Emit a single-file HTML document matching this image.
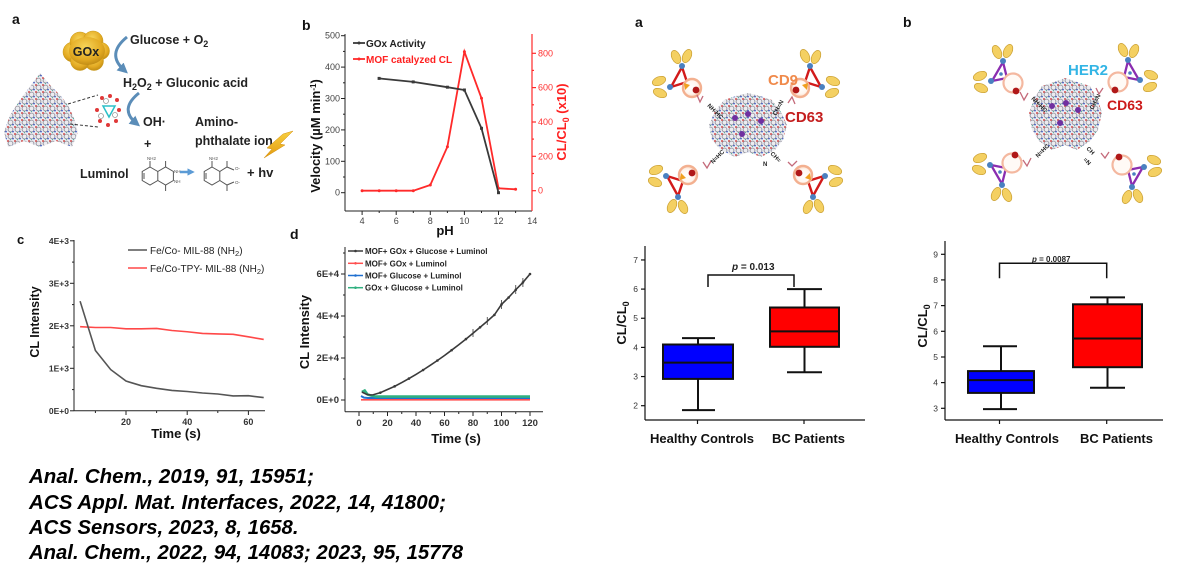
<!DOCTYPE html>
<html><head><meta charset="utf-8"><style>
html,body{margin:0;padding:0;background:#fff;}
svg{display:block;font-family:"Liberation Sans",Arial,sans-serif;}
</style></head><body>
<svg width="1192" height="582" viewBox="0 0 1192 582" xmlns="http://www.w3.org/2000/svg">
<defs>
 <pattern id="mof" width="7" height="7" patternUnits="userSpaceOnUse">
  <rect width="7" height="7" fill="#ececf1"/>
  <circle cx="3.5" cy="3.5" r="2.4" fill="none" stroke="#94949e" stroke-width="0.9"/>
  <circle cx="1" cy="1" r="1" fill="#d24f4f"/>
  <circle cx="6" cy="5.6" r="0.9" fill="#4561c2"/>
  <circle cx="3.5" cy="6.6" r="0.6" fill="#4fb0a0"/>
 </pattern>
 <radialGradient id="gold" cx="0.45" cy="0.35" r="0.7">
  <stop offset="0" stop-color="#F7D458"/><stop offset="0.65" stop-color="#E3AA22"/><stop offset="1" stop-color="#BA8612"/>
 </radialGradient>
 <linearGradient id="bolt" x1="0" y1="0" x2="0" y2="1">
  <stop offset="0" stop-color="#F8D040"/><stop offset="1" stop-color="#E29A10"/>
 </linearGradient>
 <radialGradient id="exo" cx="0.45" cy="0.45" r="0.6">
  <stop offset="0" stop-color="#ffffff"/><stop offset="0.6" stop-color="#fff6ef"/><stop offset="1" stop-color="#FAD2B8"/>
 </radialGradient>
 <marker id="arrB" viewBox="0 0 10 10" refX="5" refY="5" markerWidth="3.5" markerHeight="3.5" orient="auto"><path d="M0,0 L10,5 L0,10 z" fill="#5B8DB8"/></marker>
 <marker id="arrL" viewBox="0 0 10 10" refX="5" refY="5" markerWidth="3" markerHeight="3" orient="auto"><path d="M0,0 L10,5 L0,10 z" fill="#5B9BD5"/></marker>

 <g id="abs">
  <g fill="#F4D062" stroke="#C99E30" stroke-width="0.7">
   <ellipse cx="-16" cy="-31" rx="4.2" ry="7" transform="rotate(-25 -16 -31)"/>
   <ellipse cx="-5" cy="-32" rx="4.2" ry="7" transform="rotate(25 -5 -32)"/>
   <ellipse cx="-33" cy="-7" rx="7" ry="4.2" transform="rotate(-22 -33 -7)"/>
   <ellipse cx="-32" cy="5" rx="7" ry="4.2" transform="rotate(22 -32 5)"/>
  </g>
 </g>
 <g id="unitA">
  <use href="#abs"/>
  <path d="M-10 -21 L-5 -6 L-21 -1 Z" fill="none" stroke="#D21A1A" stroke-width="2.4"/>
  <circle cx="-10" cy="-22" r="3" fill="#4A80C0"/>
  <circle cx="-22" cy="-1" r="3" fill="#4A80C0"/>
  <circle r="9" fill="url(#exo)" stroke="#F3B090" stroke-width="2.4"/>
  <polygon points="-8,-5 -2,-3 -7,2" fill="#F0A020"/>
  <circle cx="4" cy="2" r="3.4" fill="#B01818"/>
 </g>
 <g id="unitB">
  <use href="#abs"/>
  <path d="M-10 -21 L-6 -5 L-21 -2 Z" fill="none" stroke="#8A2DB0" stroke-width="2.3"/>
  <circle cx="-10" cy="-22" r="3" fill="#4A80C0"/>
  <circle cx="-22" cy="-2" r="3" fill="#4A80C0"/>
  <circle cx="-12" cy="-9" r="1.8" fill="#4A80C0"/>
  <circle r="9.5" fill="#fffaf6" stroke="#F4B8A0" stroke-width="2.2"/>
  <circle cx="3" cy="8" r="3.4" fill="#B01818"/>
 </g>
</defs>

<rect width="1192" height="582" fill="#fff"/>

<!-- ============ Panel a (top-left schematic) ============ -->
<text x="12" y="24" font-size="14" font-weight="bold" fill="#111">a</text>
<g fill="url(#gold)" stroke="#C99A1A" stroke-width="0.5">
 <circle cx="73" cy="52" r="10"/><circle cx="80" cy="42" r="10"/><circle cx="93" cy="41" r="10"/>
 <circle cx="101" cy="51" r="8.5"/><circle cx="94" cy="61" r="9.5"/><circle cx="80" cy="61" r="9.5"/>
</g>
<ellipse cx="87" cy="51" rx="18" ry="14" fill="url(#gold)"/>
<text x="86" y="56" font-size="12.5" font-weight="bold" fill="#222" text-anchor="middle">GOx</text>
<path d="M127 37 Q106 54 124 70" fill="none" stroke="#5B8DB8" stroke-width="3" marker-end="url(#arrB)"/>
<path d="M139 93 Q119 109 136 123" fill="none" stroke="#5B8DB8" stroke-width="3" marker-end="url(#arrB)"/>
<g font-size="12.5" font-weight="bold" fill="#222">
 <text x="130" y="44">Glucose + O<tspan dy="3" font-size="9">2</tspan></text>
 <text x="123" y="87">H<tspan dy="3" font-size="9">2</tspan><tspan dy="-3">O</tspan><tspan dy="3" font-size="9">2</tspan><tspan dy="-3"> + Gluconic acid</tspan></text>
 <text x="143" y="126">OH·</text>
 <text x="144" y="148">+</text>
 <text x="195" y="126">Amino-</text>
 <text x="195" y="145">phthalate ion</text>
 <text x="80" y="178">Luminol</text>
 <text x="247" y="177" font-size="13">+ hv</text>
</g>
<!-- luminol structure -->
<g fill="none" stroke="#555" stroke-width="1">
 <polygon points="150,167 157.8,171.5 157.8,180.5 150,185 142.2,180.5 142.2,171.5"/>
 <polyline points="157.8,171.5 165.6,167 173.4,171.5 173.4,180.5 165.6,185 157.8,180.5"/>
 <line x1="165.6" y1="167" x2="165.6" y2="161"/><line x1="165.6" y1="185" x2="165.6" y2="191"/>
 <line x1="150" y1="167" x2="150" y2="161"/>
 <line x1="144" y1="173" x2="144" y2="179"/>
 <polygon points="212,167 219.8,171.5 219.8,180.5 212,185 204.2,180.5 204.2,171.5"/>
 <polyline points="219.8,171.5 227,167 234,170"/><line x1="227" y1="167" x2="227" y2="161"/>
 <polyline points="219.8,180.5 227,185 234,182"/><line x1="227" y1="185" x2="227" y2="191"/>
 <line x1="212" y1="167" x2="212" y2="161"/>
 <line x1="206" y1="173" x2="206" y2="179"/>
</g>
<g font-size="4.5" fill="#555"><text x="147" y="160">NH2</text><text x="174" y="173">NH</text><text x="174" y="183">NH</text><text x="209" y="160">NH2</text><text x="235" y="170">O-</text><text x="235" y="184">O-</text></g>
<line x1="180" y1="172" x2="191" y2="172" stroke="#5B9BD5" stroke-width="2.5" marker-end="url(#arrL)"/>
<polygon points="293,131 280,144 285,145 264,158 272,149 267,148 283,134" fill="url(#bolt)" stroke="#D49010" stroke-width="0.5"/>
<!-- MOF triangle -->
<path d="M40 73 L50 85 L60 95 L68 105 L74 118 L78 132 L72 147 L56 141 L40 147 L24 141 L8 147 L4 132 L10 115 L22 97 L32 84 Z" fill="url(#mof)"/>
<line x1="68" y1="104" x2="98" y2="95" stroke="#333" stroke-width="1" stroke-dasharray="3,2"/>
<line x1="70" y1="124" x2="98" y2="127" stroke="#333" stroke-width="1" stroke-dasharray="3,2"/>
<g>
 <polygon points="103,106 115,106 109,117" fill="none" stroke="#2BC0C8" stroke-width="1.5"/>
 <g fill="#E03838"><circle cx="102" cy="98" r="2"/><circle cx="110" cy="96" r="2"/><circle cx="117" cy="100" r="2"/><circle cx="119" cy="110" r="2"/><circle cx="116" cy="121" r="2"/><circle cx="108" cy="125" r="2"/><circle cx="100" cy="121" r="2"/><circle cx="97" cy="110" r="2"/></g>
 <g fill="none" stroke="#999" stroke-width="0.8"><circle cx="106" cy="101" r="2.5"/><circle cx="115" cy="115" r="2.5"/><circle cx="101" cy="116" r="2.5"/></g>
</g>

<!-- ============ Panel b chart ============ -->
<text x="302" y="30" font-size="14" font-weight="bold" fill="#111">b</text>
<g stroke="#222" stroke-width="1">
 <line x1="345" y1="34" x2="345" y2="211"/>
 <line x1="345" y1="211" x2="532" y2="211"/>
 <line x1="341" y1="192.7" x2="345" y2="192.7"/><line x1="341" y1="161.3" x2="345" y2="161.3"/><line x1="341" y1="129.9" x2="345" y2="129.9"/><line x1="341" y1="98.5" x2="345" y2="98.5"/><line x1="341" y1="67.1" x2="345" y2="67.1"/><line x1="341" y1="35.7" x2="345" y2="35.7"/>
 <line x1="343" y1="177" x2="345" y2="177"/><line x1="343" y1="145.6" x2="345" y2="145.6"/><line x1="343" y1="114.2" x2="345" y2="114.2"/><line x1="343" y1="82.8" x2="345" y2="82.8"/><line x1="343" y1="51.4" x2="345" y2="51.4"/>
 <line x1="362.1" y1="211" x2="362.1" y2="215"/><line x1="396.2" y1="211" x2="396.2" y2="215"/><line x1="430.3" y1="211" x2="430.3" y2="215"/><line x1="464.4" y1="211" x2="464.4" y2="215"/><line x1="498.5" y1="211" x2="498.5" y2="215"/>
 <line x1="379.2" y1="211" x2="379.2" y2="213"/><line x1="413.3" y1="211" x2="413.3" y2="213"/><line x1="447.4" y1="211" x2="447.4" y2="213"/><line x1="481.5" y1="211" x2="481.5" y2="213"/><line x1="515.6" y1="211" x2="515.6" y2="213"/>
</g>
<g stroke="#FF2A2A" stroke-width="1.2">
 <line x1="532" y1="34" x2="532" y2="211"/>
 <line x1="532" y1="190.7" x2="536" y2="190.7"/><line x1="532" y1="156.3" x2="536" y2="156.3"/><line x1="532" y1="122" x2="536" y2="122"/><line x1="532" y1="87.6" x2="536" y2="87.6"/><line x1="532" y1="53.3" x2="536" y2="53.3"/>
 <line x1="532" y1="173.5" x2="534" y2="173.5"/><line x1="532" y1="139.1" x2="534" y2="139.1"/><line x1="532" y1="104.8" x2="534" y2="104.8"/><line x1="532" y1="70.4" x2="534" y2="70.4"/>
</g>
<g font-size="9" fill="#444" text-anchor="end">
 <text x="340" y="195.7">0</text><text x="340" y="164.3">100</text><text x="340" y="132.9">200</text><text x="340" y="101.5">300</text><text x="340" y="70.1">400</text><text x="340" y="38.7">500</text>
</g>
<g font-size="9" fill="#444" text-anchor="middle">
 <text x="362.1" y="224">4</text><text x="396.2" y="224">6</text><text x="430.3" y="224">8</text><text x="464.4" y="224">10</text><text x="498.5" y="224">12</text><text x="532.3" y="224">14</text>
</g>
<g font-size="9" fill="#FF3030">
 <text x="538" y="193.7">0</text><text x="538" y="159.3">200</text><text x="538" y="125">400</text><text x="538" y="90.6">600</text><text x="538" y="56.3">800</text>
</g>
<text x="445" y="235" font-size="13" font-weight="bold" fill="#111" text-anchor="middle">pH</text>
<text transform="translate(320 136) rotate(-90)" font-size="13" font-weight="bold" fill="#111" text-anchor="middle">Velocity (µM min<tspan dy="-4" font-size="8">-1</tspan><tspan dy="4">)</tspan></text>
<text transform="translate(566 122) rotate(-90)" font-size="13" font-weight="bold" fill="#FF2020" text-anchor="middle">CL/CL<tspan dy="3" font-size="9">0</tspan><tspan dy="-3"> (x10)</tspan></text>
<polyline points="362.1,190.7 379.2,190.7 396.2,190.7 413.3,190.7 430.3,185 447.4,146.7 464.4,51.7 481.5,98.3 498.5,188.3 515.6,189.3" fill="none" stroke="#FF2A2A" stroke-width="1.8"/>
<g fill="#FF2A2A"><circle cx="362.1" cy="190.7" r="1.5"/><circle cx="379.2" cy="190.7" r="1.5"/><circle cx="396.2" cy="190.7" r="1.5"/><circle cx="413.3" cy="190.7" r="1.5"/><circle cx="430.3" cy="185" r="1.5"/><circle cx="447.4" cy="146.7" r="1.5"/><circle cx="464.4" cy="51.7" r="1.5"/><circle cx="481.5" cy="98.3" r="1.5"/><circle cx="498.5" cy="188.3" r="1.5"/><circle cx="515.6" cy="189.3" r="1.5"/></g>
<polyline points="379.1,78.4 413.2,81.9 447.4,87.2 464.4,90 481.5,128.3 498.5,192.7" fill="none" stroke="#3a3a3a" stroke-width="1.8"/>
<g fill="#3a3a3a"><rect x="377.6" y="76.9" width="3" height="3"/><rect x="411.7" y="80.4" width="3" height="3"/><rect x="445.9" y="85.7" width="3" height="3"/><rect x="462.9" y="88.5" width="3" height="3"/><rect x="480" y="126.8" width="3" height="3"/><rect x="497" y="191.2" width="3" height="3"/></g>
<line x1="353" y1="43" x2="365" y2="43" stroke="#3a3a3a" stroke-width="1.8"/><circle cx="359" cy="43" r="1.5" fill="#3a3a3a"/>
<text x="366" y="47" font-size="10" font-weight="bold" fill="#222">GOx Activity</text>
<line x1="353" y1="59" x2="365" y2="59" stroke="#FF2A2A" stroke-width="1.8"/><circle cx="359" cy="59" r="1.5" fill="#FF2A2A"/>
<text x="366" y="63" font-size="10" font-weight="bold" fill="#FF2020">MOF catalyzed CL</text>

<!-- ============ Panel c ============ -->
<text x="17" y="244" font-size="13" font-weight="bold" fill="#111">c</text>
<g stroke="#222" stroke-width="1">
 <line x1="74" y1="240" x2="74" y2="410.8"/>
 <line x1="74" y1="410.8" x2="265" y2="410.8"/>
 <line x1="70" y1="410.8" x2="74" y2="410.8"/><line x1="70" y1="368.3" x2="74" y2="368.3"/><line x1="70" y1="325.8" x2="74" y2="325.8"/><line x1="70" y1="283.3" x2="74" y2="283.3"/><line x1="70" y1="240.8" x2="74" y2="240.8"/>
 <line x1="72" y1="389.6" x2="74" y2="389.6"/><line x1="72" y1="347.1" x2="74" y2="347.1"/><line x1="72" y1="304.6" x2="74" y2="304.6"/><line x1="72" y1="262.1" x2="74" y2="262.1"/>
 <line x1="126" y1="410.8" x2="126" y2="415"/><line x1="187.2" y1="410.8" x2="187.2" y2="415"/><line x1="248.4" y1="410.8" x2="248.4" y2="415"/>
 <line x1="95.4" y1="410.8" x2="95.4" y2="413"/><line x1="156.6" y1="410.8" x2="156.6" y2="413"/><line x1="217.8" y1="410.8" x2="217.8" y2="413"/>
</g>
<g font-size="8.5" font-weight="bold" fill="#333" text-anchor="end">
 <text x="69" y="413.8">0E+0</text><text x="69" y="371.3">1E+3</text><text x="69" y="328.8">2E+3</text><text x="69" y="286.3">3E+3</text><text x="69" y="243.8">4E+3</text>
</g>
<g font-size="9" font-weight="bold" fill="#333" text-anchor="middle">
 <text x="126" y="425">20</text><text x="187.2" y="425">40</text><text x="248.4" y="425">60</text>
</g>
<text x="176" y="438" font-size="13" font-weight="bold" fill="#111" text-anchor="middle">Time (s)</text>
<text transform="translate(39 322) rotate(-90)" font-size="12.5" font-weight="bold" fill="#111" text-anchor="middle">CL Intensity</text>
<polyline points="80.1,326.65 95.4,327.5 110.7,327.5 126,328.8 141.3,328.8 156.6,328.4 171.9,330.5 187.2,331.75 202.5,333.45 217.8,333.9 233.1,334.3 248.4,336.85 263.7,339.4" fill="none" stroke="#FF4848" stroke-width="1.6"/>
<polyline points="80.1,301.2 95.4,350.45 110.7,369.6 126,381.05 141.3,385.7 156.6,388.3 171.9,390.4 187.2,391.5 202.5,393 217.8,394 233.1,395.9 248.4,395.7 263.7,397.6" fill="none" stroke="#555" stroke-width="1.6"/>
<line x1="128" y1="250" x2="147" y2="250" stroke="#555" stroke-width="1.6"/>
<text x="150" y="254" font-size="10" fill="#222">Fe/Co- MIL-88 (NH<tspan dy="2" font-size="7.5">2</tspan><tspan dy="-2">)</tspan></text>
<line x1="128" y1="268" x2="147" y2="268" stroke="#FF4848" stroke-width="1.6"/>
<text x="150" y="272" font-size="10" fill="#222">Fe/Co-TPY- MIL-88 (NH<tspan dy="2" font-size="7.5">2</tspan><tspan dy="-2">)</tspan></text>

<!-- ============ Panel d ============ -->
<text x="290" y="239" font-size="14" font-weight="bold" fill="#111">d</text>
<g stroke="#222" stroke-width="1">
 <line x1="345" y1="247" x2="345" y2="411.7"/>
 <line x1="345" y1="411.7" x2="543" y2="411.7"/>
 <line x1="341" y1="400" x2="345" y2="400"/><line x1="341" y1="358" x2="345" y2="358"/><line x1="341" y1="316" x2="345" y2="316"/><line x1="341" y1="274" x2="345" y2="274"/>
 <line x1="343" y1="379" x2="345" y2="379"/><line x1="343" y1="337" x2="345" y2="337"/><line x1="343" y1="295" x2="345" y2="295"/><line x1="343" y1="253" x2="345" y2="253"/>
 <line x1="359" y1="411.7" x2="359" y2="416"/><line x1="387.5" y1="411.7" x2="387.5" y2="416"/><line x1="416" y1="411.7" x2="416" y2="416"/><line x1="444.5" y1="411.7" x2="444.5" y2="416"/><line x1="473" y1="411.7" x2="473" y2="416"/><line x1="501.5" y1="411.7" x2="501.5" y2="416"/><line x1="530" y1="411.7" x2="530" y2="416"/>
 <line x1="373.25" y1="411.7" x2="373.25" y2="414"/><line x1="401.75" y1="411.7" x2="401.75" y2="414"/><line x1="430.25" y1="411.7" x2="430.25" y2="414"/><line x1="458.75" y1="411.7" x2="458.75" y2="414"/><line x1="487.25" y1="411.7" x2="487.25" y2="414"/><line x1="515.75" y1="411.7" x2="515.75" y2="414"/>
</g>
<g font-size="9.5" font-weight="bold" fill="#333" text-anchor="end">
 <text x="339" y="403">0E+0</text><text x="339" y="361">2E+4</text><text x="339" y="319">4E+4</text><text x="339" y="277">6E+4</text>
</g>
<g font-size="9.5" font-weight="bold" fill="#333" text-anchor="middle">
 <text x="359" y="426">0</text><text x="387.5" y="426">20</text><text x="416" y="426">40</text><text x="444.5" y="426">60</text><text x="473" y="426">80</text><text x="501.5" y="426">100</text><text x="530" y="426">120</text>
</g>
<text x="456" y="443" font-size="13" font-weight="bold" fill="#111" text-anchor="middle">Time (s)</text>
<text transform="translate(309 332) rotate(-90)" font-size="13" font-weight="bold" fill="#111" text-anchor="middle">CL Intensity</text>
<polyline points="361,399.8 530,399.8" fill="none" stroke="#FF5050" stroke-width="1.6"/>
<polyline points="361,396 364,397.6 368,398 530,398" fill="none" stroke="#2070D0" stroke-width="2"/>
<polyline points="361.85,392 364.7,390.5 367.5,394.5 371,395.5 376,396.6 530,396.6" fill="none" stroke="#30B080" stroke-width="2.6"/>
<polyline points="361.85,392 366.1,394.1 370.4,395 373.25,394.75 380.4,392.65 387.5,389.5 394.6,386.35 401.75,382.6 408.9,378.6 416,374.4 423.1,370 430.25,365.35 437.4,360.5 444.5,355.5 451.6,350.2 458.75,344.8 465.9,339.1 473,333.2 480.1,327.3 487.25,321.25 494.4,314.9 501.5,304.45 508.6,297.5 515.75,289.75 522.9,282.4 530,274" fill="none" stroke="#3a3a3a" stroke-width="1.6"/>
<g fill="#3a3a3a"><circle cx="380.4" cy="392.65" r="1.3"/><circle cx="394.6" cy="386.35" r="1.3"/><circle cx="408.9" cy="378.6" r="1.3"/><circle cx="423.1" cy="370" r="1.3"/><circle cx="437.4" cy="360.5" r="1.3"/><circle cx="451.6" cy="350.2" r="1.3"/><circle cx="465.9" cy="339.1" r="1.3"/><circle cx="480.1" cy="327.3" r="1.3"/><circle cx="494.4" cy="314.9" r="1.3"/><circle cx="501.5" cy="304.45" r="1.3"/><circle cx="508.6" cy="297.5" r="1.3"/><circle cx="515.75" cy="289.75" r="1.3"/><circle cx="522.9" cy="282.4" r="1.3"/><circle cx="530" cy="274" r="1.3"/></g>
<g stroke="#3a3a3a" stroke-width="0.8"><line x1="501.5" y1="300" x2="501.5" y2="309"/><line x1="515.75" y1="285" x2="515.75" y2="294"/><line x1="522.9" y1="278" x2="522.9" y2="287"/><line x1="487.25" y1="317" x2="487.25" y2="325"/><line x1="473" y1="329" x2="473" y2="337"/></g>
<line x1="348" y1="251" x2="363" y2="251" stroke="#3a3a3a" stroke-width="1.5"/><circle cx="355.5" cy="251" r="1.3" fill="#3a3a3a"/>
<line x1="348" y1="263.3" x2="363" y2="263.3" stroke="#FF5050" stroke-width="1.5"/><circle cx="355.5" cy="263.3" r="1.3" fill="#FF5050"/>
<line x1="348" y1="275.5" x2="363" y2="275.5" stroke="#2070D0" stroke-width="1.5"/><circle cx="355.5" cy="275.5" r="1.3" fill="#2070D0"/>
<line x1="348" y1="287.7" x2="363" y2="287.7" stroke="#30B080" stroke-width="1.5"/><circle cx="355.5" cy="287.7" r="1.3" fill="#30B080"/>
<g font-size="8" font-weight="bold" fill="#222">
 <text x="365" y="254">MOF+ GOx  + Glucose + Luminol</text>
 <text x="365" y="266.3">MOF+ GOx  + Luminol</text>
 <text x="365" y="278.5">MOF+ Glucose + Luminol</text>
 <text x="365" y="290.7">GOx  + Glucose + Luminol</text>
</g>

<!-- ============ Right panel a schematic ============ -->
<text x="635" y="27" font-size="14" font-weight="bold" fill="#111">a</text>
<path d="M748 93 L760 96 L772 100 L781 112 L787 125 L783 140 L775 150 L761 157 L748 152 L735 157 L721 150 L712 140 L709 125 L715 111 L724 100 L736 96 Z" fill="url(#mof)"/>
<g fill="#7030A0"><circle cx="735" cy="118" r="3"/><circle cx="748" cy="114" r="3"/><circle cx="761" cy="121" r="3"/><circle cx="742" cy="134" r="3"/></g>
<use href="#unitA" transform="translate(692 88)"/>
<use href="#unitA" transform="translate(800 88) scale(-1 1)"/>
<use href="#unitA" transform="translate(688 175) scale(1 -1)"/>
<use href="#unitA" transform="translate(803 175) scale(-1 -1)"/>
<g fill="none" stroke="#C46A7A" stroke-width="1.3">
 <path d="M697 95 L700 102 L703 96"/><path d="M795 104 L792 97 L788 103"/>
 <path d="M703 162 L707 168 L711 161"/><path d="M788 162 L792 166 L797 161"/>
</g>
<g font-size="6" font-weight="bold" fill="#222">
 <text transform="translate(707 106) rotate(45)">NH-HC</text>
 <text transform="translate(776 116) rotate(-62)">CH=N</text>
 <text transform="translate(713 164) rotate(-45)">N=HC</text>
 <text transform="translate(770 154) rotate(45)">CH=</text>
 <text x="763" y="166" font-size="6">N</text>
</g>
<text x="768" y="85" font-size="15" font-weight="bold" fill="#F08A4B">CD9</text>
<text x="785" y="122" font-size="15" font-weight="bold" fill="#C41E1E">CD63</text>

<!-- ============ Right panel b schematic ============ -->
<text x="903" y="27" font-size="14" font-weight="bold" fill="#111">b</text>
<path d="M1065 78 L1077 82 L1090 86 L1098 100 L1102 113 L1098 130 L1090 141 L1077 150 L1065 145 L1052 150 L1039 141 L1032 130 L1029 113 L1034 99 L1042 86 L1054 82 Z" fill="url(#mof)"/>
<g fill="#7030A0"><circle cx="1052" cy="106" r="3"/><circle cx="1066" cy="103" r="3"/><circle cx="1078" cy="110" r="3"/><circle cx="1060" cy="123" r="3"/></g>
<use href="#unitB" transform="translate(1013 83)"/>
<use href="#unitB" transform="translate(1118 82) scale(-1 1)"/>
<use href="#unitB" transform="translate(1012 163) scale(1 -1)"/>
<use href="#unitB" transform="translate(1122 165) scale(-1 -1)"/>
<g fill="none" stroke="#C46A7A" stroke-width="1.3">
 <path d="M1020 92 L1024 100 L1028 93"/><path d="M1103 88 L1099 94 L1096 88"/>
 <path d="M1023 160 L1027 166 L1031 158"/><path d="M1109 152 L1105 158 L1101 153"/>
</g>
<g font-size="6" font-weight="bold" fill="#222">
 <text transform="translate(1031 99) rotate(45)">NH-HC</text>
 <text transform="translate(1093 110) rotate(-62)">CH=N</text>
 <text transform="translate(1038 158) rotate(-45)">N=HC</text>
 <text transform="translate(1086 149) rotate(45)">CH</text>
 <text transform="translate(1083 160) rotate(45)">=N</text>
</g>
<text x="1068" y="75" font-size="15" font-weight="bold" fill="#33B5E5">HER2</text>
<text x="1107" y="110" font-size="14" font-weight="bold" fill="#CC1A1A">CD63</text>

<!-- ============ Box plot left ============ -->
<g stroke="#111" stroke-width="1.2">
 <line x1="645" y1="246" x2="645" y2="420"/>
 <line x1="645" y1="420" x2="865" y2="420"/>
 <line x1="641" y1="405.7" x2="645" y2="405.7"/><line x1="641" y1="376.55" x2="645" y2="376.55"/><line x1="641" y1="347.4" x2="645" y2="347.4"/><line x1="641" y1="318.25" x2="645" y2="318.25"/><line x1="641" y1="289.1" x2="645" y2="289.1"/><line x1="641" y1="259.95" x2="645" y2="259.95"/>
 <line x1="697.5" y1="420" x2="697.5" y2="424"/><line x1="804" y1="420" x2="804" y2="424"/>
</g>
<g font-size="8.5" fill="#333" text-anchor="end">
 <text x="638" y="408.7">2</text><text x="638" y="379.5">3</text><text x="638" y="350.4">4</text><text x="638" y="321.2">5</text><text x="638" y="292.1">6</text><text x="638" y="262.9">7</text>
</g>
<g stroke="#111" stroke-width="2" fill="none">
 <line x1="698" y1="338.1" x2="698" y2="410.1"/><line x1="682" y1="338.1" x2="715" y2="338.1"/><line x1="682" y1="410.1" x2="715" y2="410.1"/>
 <line x1="804.5" y1="289.1" x2="804.5" y2="372.2"/><line x1="787" y1="289.1" x2="822" y2="289.1"/><line x1="787" y1="372.2" x2="822" y2="372.2"/>
</g>
<rect x="663" y="344.5" width="70" height="34.4" fill="#0000FF" stroke="#111" stroke-width="2"/>
<line x1="663" y1="362.6" x2="733" y2="362.6" stroke="#111" stroke-width="2"/>
<rect x="770" y="307.5" width="69" height="39.3" fill="#FF0000" stroke="#111" stroke-width="2"/>
<line x1="770" y1="331.4" x2="839" y2="331.4" stroke="#111" stroke-width="2"/>
<polyline points="708,287 708,275 794,275 794,287" fill="none" stroke="#111" stroke-width="1.5"/>
<text x="732" y="270" font-size="10" font-weight="bold" fill="#222"><tspan font-style="italic">p</tspan> = 0.013</text>
<text transform="translate(626 323) rotate(-90)" font-size="13" font-weight="bold" fill="#111" text-anchor="middle">CL/CL<tspan dy="3" font-size="9">0</tspan></text>
<text x="650" y="443" font-size="13" font-weight="bold" fill="#111">Healthy Controls</text>
<text x="772" y="443" font-size="13" font-weight="bold" fill="#111">BC Patients</text>

<!-- ============ Box plot right ============ -->
<g stroke="#111" stroke-width="1.2">
 <line x1="945" y1="241" x2="945" y2="420"/>
 <line x1="945" y1="420" x2="1163" y2="420"/>
 <line x1="941" y1="408.3" x2="945" y2="408.3"/><line x1="941" y1="382.6" x2="945" y2="382.6"/><line x1="941" y1="357" x2="945" y2="357"/><line x1="941" y1="331.3" x2="945" y2="331.3"/><line x1="941" y1="305.6" x2="945" y2="305.6"/><line x1="941" y1="279.9" x2="945" y2="279.9"/><line x1="941" y1="254.3" x2="945" y2="254.3"/>
 <line x1="999.5" y1="420" x2="999.5" y2="424"/><line x1="1106.7" y1="420" x2="1106.7" y2="424"/>
</g>
<g font-size="8.5" fill="#333" text-anchor="end">
 <text x="938" y="411.3">3</text><text x="938" y="385.6">4</text><text x="938" y="360">5</text><text x="938" y="334.3">6</text><text x="938" y="308.6">7</text><text x="938" y="282.9">8</text><text x="938" y="257.3">9</text>
</g>
<g stroke="#111" stroke-width="2" fill="none">
 <line x1="1001" y1="346.2" x2="1001" y2="409.1"/><line x1="983" y1="346.2" x2="1017" y2="346.2"/><line x1="983" y1="409.1" x2="1017" y2="409.1"/>
 <line x1="1107.5" y1="297.4" x2="1107.5" y2="387.8"/><line x1="1090" y1="297.4" x2="1125" y2="297.4"/><line x1="1090" y1="387.8" x2="1125" y2="387.8"/>
</g>
<rect x="968" y="371.1" width="66" height="21.8" fill="#0000FF" stroke="#111" stroke-width="2"/>
<line x1="968" y1="380.1" x2="1034" y2="380.1" stroke="#111" stroke-width="2"/>
<rect x="1073" y="304.3" width="69" height="62.9" fill="#FF0000" stroke="#111" stroke-width="2"/>
<line x1="1073" y1="338.5" x2="1142" y2="338.5" stroke="#111" stroke-width="2"/>
<polyline points="999.5,278.3 999.5,263.3 1106.7,263.3 1106.7,278.3" fill="none" stroke="#111" stroke-width="1.5"/>
<text x="1032" y="262" font-size="8" font-weight="bold" fill="#222"><tspan font-style="italic">p</tspan> = 0.0087</text>
<text transform="translate(927 326) rotate(-90)" font-size="13" font-weight="bold" fill="#111" text-anchor="middle">CL/CL<tspan dy="3" font-size="9">0</tspan></text>
<text x="955" y="443" font-size="13" font-weight="bold" fill="#111">Healthy Controls</text>
<text x="1080" y="443" font-size="13" font-weight="bold" fill="#111">BC Patients</text>

<!-- ============ Citations ============ -->
<g font-size="20.3" font-weight="bold" font-style="italic" fill="#000">
 <text x="29" y="483" textLength="285" lengthAdjust="spacingAndGlyphs">Anal. Chem., 2019, 91, 15951;</text>
 <text x="29" y="509" textLength="417" lengthAdjust="spacingAndGlyphs">ACS Appl. Mat. Interfaces, 2022, 14, 41800;</text>
 <text x="29" y="534">ACS Sensors, 2023, 8, 1658.</text>
 <text x="29" y="559" textLength="434" lengthAdjust="spacingAndGlyphs">Anal. Chem., 2022, 94, 14083; 2023, 95, 15778</text>
</g>
</svg>
</body></html>
